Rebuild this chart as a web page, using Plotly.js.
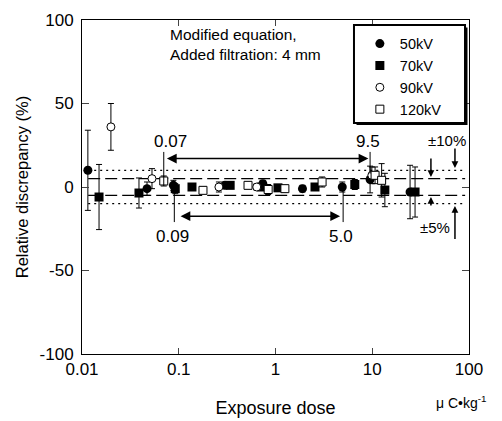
<!DOCTYPE html>
<html>
<head>
<meta charset="utf-8">
<script src="https://cdn.plot.ly/plotly-3.0.1.min.js"></script>
<style>html,body{margin:0;padding:0;background:#fff;}#chart{width:502px;height:421px;}</style>
</head>
<body>
<div id="chart"></div>
<script>
// ---- data ----
const x50 = [0.0115, 0.047, 0.088, 0.30, 0.74, 1.9, 4.9, 9.5, 24.6];
const y50 = [10, -1, 1, 1, 2, -1, 0, 4.5, -3];
const e50 = [24, 4, 3, 2, 2, 2, 3, 8, 16];

const x70 = [0.015, 0.0388, 0.092, 0.137, 0.34, 0.72, 1.06, 2.56, 6.6, 13.5, 27.7];
const y70 = [-6, -3.6, -1, 0, 1, 0, -0.5, 0, 1.5, -1.8, -3];
const e70 = [19.5, 9, 3, 2, 2, 2, 2, 2, 3, 10, 15];

const x90 = [0.0199, 0.0529, 0.26, 0.64, 9.9];
const y90 = [36, 5, 0, 0, 7];
const e90 = [14, 6, 3, 2, 5];

const x120 = [0.070, 0.178, 0.52, 0.84, 1.25, 3.03, 10.7, 12.5];
const y120 = [3.6, -2, 1, -1.5, -1, 3, 7, 4];
const e120 = [3, 2, 2, 3, 2, 3, 5, 10];

const seriesNames = ['50kV', '70kV', '90kV', '120kV'];
const xTicks = [0.01, 0.1, 1, 10, 100];
const xTickText = ['0.01', '0.1', '1', '10', '100'];
const yTicks = [-100, -50, 0, 50, 100];
const yTickText = ['-100', '-50', '0', '50', '100'];

// reference bands (%), range labels
const band5 = 5, band10 = 10;
const rangeTop = [0.07, 9.5];
const rangeBottom = [0.09, 5.0];

const FONT = 'Liberation Sans, Arial, Helvetica, sans-serif';

function errs(arr){ return {type:'data', array:arr, visible:true, color:'black', thickness:1, width:3}; }

const traces = [
  {x:x50, y:y50, error_y:errs(e50), name:seriesNames[0], mode:'markers', type:'scatter',
   marker:{symbol:'circle', size:9, color:'black'}},
  {x:x70, y:y70, error_y:errs(e70), name:seriesNames[1], mode:'markers', type:'scatter',
   marker:{symbol:'square', size:9, color:'black'}},
  {x:x90, y:y90, error_y:errs(e90), name:seriesNames[2], mode:'markers', type:'scatter',
   marker:{symbol:'circle', size:8, color:'white', line:{color:'black', width:1}}},
  {x:x120, y:y120, error_y:errs(e120), name:seriesNames[3], mode:'markers', type:'scatter',
   marker:{symbol:'square', size:8, color:'white', line:{color:'black', width:1}}}
];

const shapes = [];
[band5, -band5].forEach(v => shapes.push({type:'line', xref:'paper', yref:'y', x0:0.016, x1:0.99, y0:v, y1:v,
  line:{color:'black', width:1.2, dash:'12px,5px'}, layer:'below'}));
[band10, -band10].forEach(v => shapes.push({type:'line', xref:'paper', yref:'y', x0:0.016, x1:0.99, y0:v, y1:v,
  line:{color:'black', width:1.2, dash:'2px,4px'}, layer:'below'}));
// pointer lines from range labels
shapes.push({type:'line', xref:'x', yref:'y', x0:rangeTop[0], x1:rangeTop[0], y0:21, y1:1, line:{color:'black', width:1}});
shapes.push({type:'line', xref:'x', yref:'y', x0:rangeTop[1], x1:rangeTop[1], y0:21, y1:8, line:{color:'black', width:1}});
shapes.push({type:'line', xref:'x', yref:'y', x0:rangeBottom[0], x1:rangeBottom[0], y0:1, y1:-21, line:{color:'black', width:1}});
shapes.push({type:'line', xref:'x', yref:'y', x0:rangeBottom[1], x1:rangeBottom[1], y0:0, y1:-21, line:{color:'black', width:1}});
// legend frame with drop shadow (thicker right/bottom border)
shapes.push({type:'rect', xref:'paper', yref:'paper', x0:0.7093, x1:0.9961, y0:0.6856, y1:0.9775,
  fillcolor:'black', line:{width:0}, layer:'above'});
shapes.push({type:'rect', xref:'paper', yref:'paper', x0:0.7028, x1:0.9897, y0:0.6916, y1:0.985,
  fillcolor:'white', line:{color:'black', width:2}, layer:'above'});

function arrow(x, y, ax, ay, both, size){
  return {x:Math.log10(x), y:y, ax:Math.log10(ax), ay:ay, xref:'x', yref:'y', axref:'x', ayref:'y',
    text:'', showarrow:true, arrowhead:2, arrowsize:size||1.3, arrowwidth:1.5, arrowcolor:'black',
    arrowside: both ? 'end+start' : 'end', standoff:0, startstandoff:0};
}
function label(x, y, t, size){
  return {x:Math.log10(x), y:y, xref:'x', yref:'y', text:t, showarrow:false,
    font:{family:FONT, size:size||17, color:'black'}};
}

const annotations = [
  arrow(rangeTop[1]*0.96, 17, rangeTop[0]*1.04, 17, true),
  arrow(rangeBottom[1]*0.93, -17.5, rangeBottom[0]*1.12, -17.5, true),
  label(0.082, 27.5, '0.07'),
  label(9.1, 27.5, '9.5'),
  label(0.087, -29.5, '0.09'),
  label(4.8, -29.5, '5.0'),
  label(59, 28, '±10%', 15),
  label(45, -24.5, '±5%', 15),
  arrow(40.4, 6, 40.4, 18, false, 0.9),
  arrow(71.6, 11.4, 71.6, 24, false, 0.9),
  arrow(40.4, -6, 40.4, -12, false, 0.9),
  arrow(71.6, -11.4, 71.6, -32, false, 0.9),
  {xref:'paper', yref:'paper', x:0.222, y:0.928, xanchor:'left', yanchor:'middle', align:'left', showarrow:false,
   text:'Modified equation,<br>Added filtration: 4 mm', font:{family:FONT, size:15.5, color:'black'}},
  {xref:'paper', yref:'paper', x:0.91, y:-0.145, xanchor:'left', yanchor:'middle', showarrow:false,
   text:'μ C•kg<sup>-1</sup>', font:{family:FONT, size:14, color:'black'}}
];

const layout = {
  width:502, height:421,
  margin:{l:82, r:33, t:20, b:67},
  paper_bgcolor:'white', plot_bgcolor:'white',
  font:{family:FONT, size:16, color:'black'},
  showlegend:true,
  legend:{x:0.718, y:0.977, xanchor:'left', yanchor:'top', bgcolor:'rgba(0,0,0,0)', borderwidth:0,
    font:{family:FONT, size:14.5, color:'black'}, tracegroupgap:0, itemwidth:30},
  xaxis:{type:'log', range:[-2, 2], tickvals:xTicks, ticktext:xTickText, ticks:'inside', ticklen:6,
    showline:true, linecolor:'black', linewidth:1, mirror:'ticks', showgrid:false, zeroline:false,
    tickfont:{family:FONT, size:17}, title:{text:'Exposure dose', font:{family:FONT, size:18}, standoff:22}},
  yaxis:{range:[-100, 100], tickvals:yTicks, ticktext:yTickText, ticks:'inside', ticklen:7,
    showline:true, linecolor:'black', linewidth:1, mirror:'ticks', showgrid:false, zeroline:false,
    tickfont:{family:FONT, size:17}, ticklabelstandoff:4,
    title:{text:'Relative discrepancy (%)', font:{family:FONT, size:16.5}, standoff:6}},
  shapes:shapes,
  annotations:annotations
};

Plotly.newPlot('chart', traces, layout, {displayModeBar:false, staticPlot:true});
</script>
</body>
</html>
